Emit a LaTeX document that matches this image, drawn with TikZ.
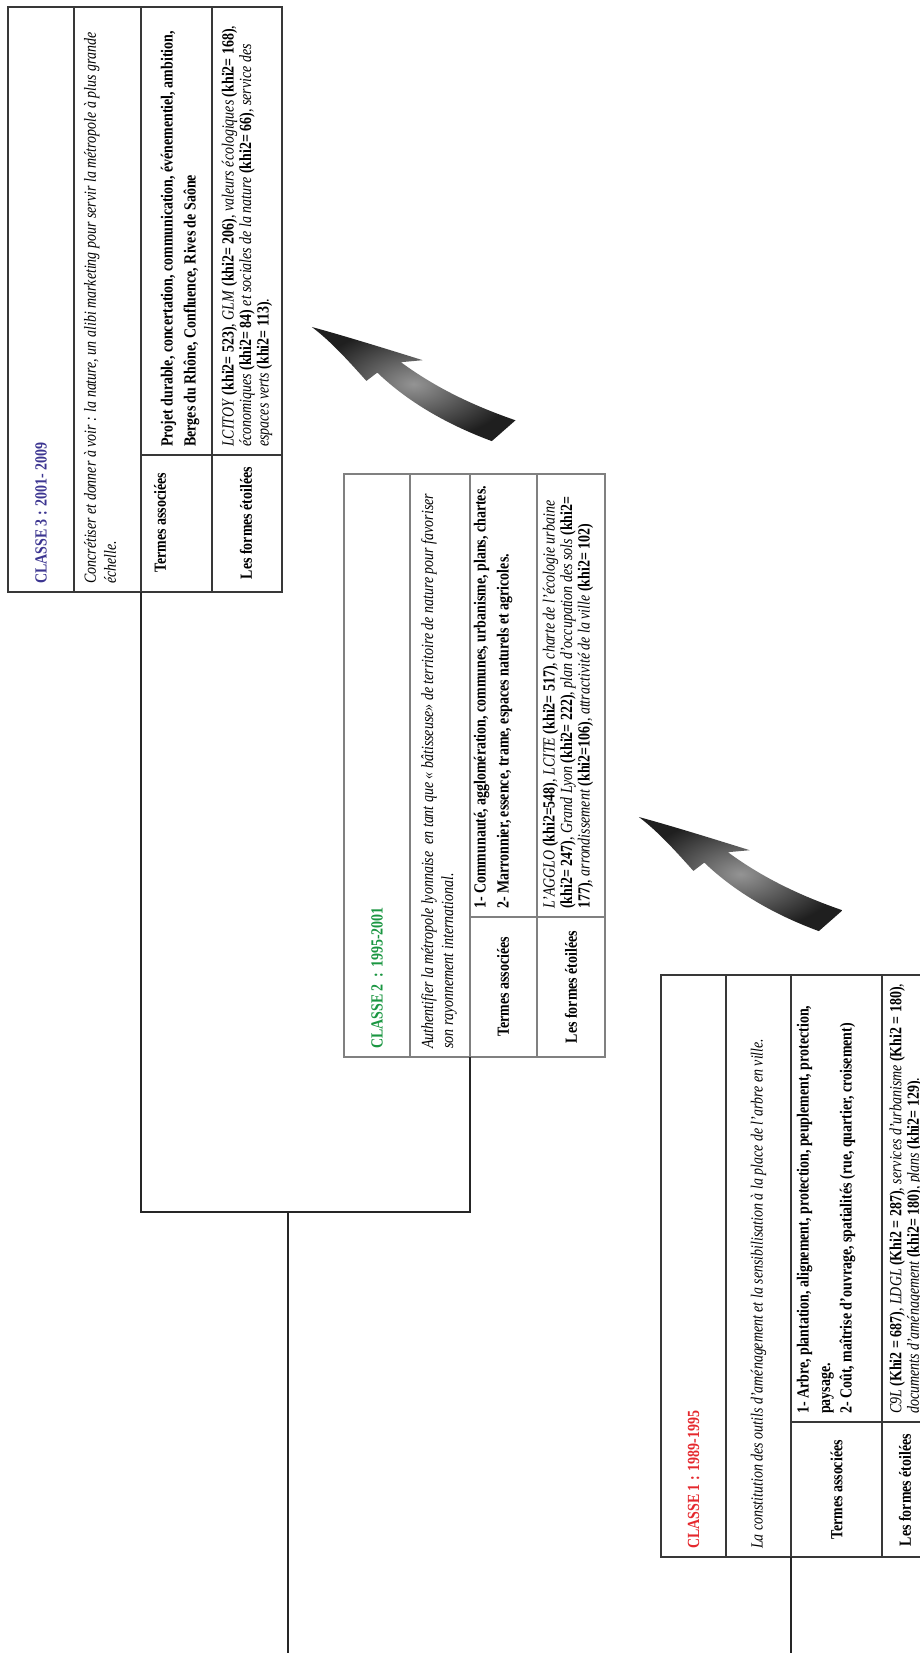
\documentclass[tikz,border=0pt]{standalone}
\usepackage{fontspec}
\setmainfont{Liberation Serif}[FakeStretch=0.82]
\definecolor{cthree}{HTML}{3C3591}
\definecolor{ctwo}{HTML}{1A9641}
\definecolor{cone}{HTML}{E5282D}
\newcommand{\arrowshape}{%
  (311.8,327) .. controls (345,336) and (390,350) .. (422.7,360.2)
  -- (400.9,362.2)
  .. controls (436,388) and (474,406) .. (515.5,420.3)
  -- (491.8,441.1)
  .. controls (451,426) and (410,404) .. (377.3,372.6)
  -- (366.4,380.9)
  .. controls (352,365) and (332,342) .. (311.8,327) -- cycle}
\begin{document}
\begin{tikzpicture}[x=1pt,y=-1pt,
  tabline/.style={draw=black!78, line width=1.5pt},
  tablinegray/.style={draw=black!50, line width=1.4pt},
  treeline/.style={draw=black!85, line width=1.8pt},
  rtxt/.style={rotate=90, inner sep=0pt, align=left, anchor=west},
  hdr/.style={rotate=90, inner sep=0pt, anchor=west, font=\fontsize{17}{20}\selectfont\bfseries},
  lbl/.style={rotate=90, inner sep=0pt, anchor=center, font=\fontsize{17}{20}\selectfont\bfseries},
  desc/.style={rtxt, font=\fontsize{17}{20}\selectfont\itshape},
  terms/.style={rtxt, font=\fontsize{17}{23}\selectfont\bfseries},
  forms/.style={rtxt, font=\fontsize{17}{17.5}\selectfont},
  bentarrow/.style={inner color=black!42, outer color=black!88, draw=none},
]
\useasboundingbox (0,0) rectangle (920,1653);
\fill[white] (0,0) rectangle (920,1653);
\clip (0,0) rectangle (920,1653);

% ---------- CLASSE 3 table ----------
\draw[tabline] (8,7) rectangle (282,592);
\draw[tabline] (74,7) -- (74,592);
\draw[tabline] (141,7) -- (141,592);
\draw[tabline] (212,7) -- (212,592);
\draw[tabline] (141,455) -- (282,455);
\node[hdr, text=cthree] (c3h) at (41,584) {CLASSE 3 : 2001- 2009};
\node[desc] (c3d) at (100,584) {Concrétiser et donner à voir : la nature, un alibi marketing pour servir la métropole à plus grande\\échelle.};
\node[lbl] (c3tl) at (160,523) {Termes associées};
\node[terms] (c3tc) at (180,447) {Projet durable, concertation, communication, événementiel, ambition,\\Berges du Rhône, Confluence, Rives de Saône};
\node[lbl] (c3fl) at (246,523) {Les formes étoilées};
\node[forms] (c3fc) at (247,447) {\textit{LCITOY} \textbf{(khi2= 523)}, \textit{GLM} \textbf{(khi2= 206)}, \textit{valeurs écologiques} \textbf{(khi2= 168)},\\\textit{économiques} \textbf{(khi2= 84)} \textit{et sociales de la nature} \textbf{(khi2= 66)}, \textit{service des}\\\textit{espaces verts} \textbf{(khi2= 113)}.};

% ---------- CLASSE 2 table ----------
\draw[tablinegray] (344,474) rectangle (605,1057);
\draw[tablinegray] (410,474) -- (410,1057);
\draw[tablinegray] (470,474) -- (470,1057);
\draw[tablinegray] (537,474) -- (537,1057);
\draw[tablinegray] (470,917) -- (605,917);
\node[hdr, text=ctwo] (c2h) at (377,1049) {CLASSE 2~ : 1995-2001};
\node[desc] (c2d) at (439,1049) {Authentifier la métropole lyonnaise~ en tant que « bâtisseuse» de territoire de nature pour favoriser\\son rayonnement international.};
\node[lbl] (c2tl) at (503,987) {Termes associées};
\node[terms] (c2tc) at (493,909) {1- Communauté, agglomération, communes, urbanisme, plans, chartes.\\2- Marronnier, essence, trame, espaces naturels et agricoles.};
\node[lbl] (c2fl) at (571,987) {Les formes étoilées};
\node[forms] (c2fc) at (568,909) {\textit{L'AGGLO} \textbf{(khi2=548)}, \textit{LCITE} \textbf{(khi2= 517)}, \textit{charte de l'écologie urbaine}\\\textbf{(khi2= 247)}, \textit{Grand Lyon} \textbf{(khi2= 222)}, \textit{plan d'occupation des sols} \textbf{(khi2=}\\\textbf{177)}, \textit{arrondissement} \textbf{(khi2=106)}, \textit{attractivité de la ville} \textbf{(khi2= 102)}};

% ---------- CLASSE 1 table ----------
\draw[tabline] (661,975) rectangle (930,1557);
\draw[tabline] (726,975) -- (726,1557);
\draw[tabline] (791,975) -- (791,1557);
\draw[tabline] (882,975) -- (882,1557);
\draw[tabline] (791,1422) -- (930,1422);
\node[hdr, text=cone] (c1h) at (693.5,1549) {CLASSE 1 : 1989-1995};
\node[desc] (c1d) at (758.5,1549) {La constitution des outils d'aménagement et la sensibilisation à la place de l'arbre en ville.};
\node[lbl] (c1tl) at (836.5,1490) {Termes associées};
\node[terms, font=\fontsize{17}{21.5}\selectfont\bfseries] (c1tc) at (826,1414) {1- Arbre, plantation, alignement, protection, peuplement, protection,\\paysage.\\2- Coût, maîtrise d'ouvrage, spatialités (rue, quartier, croisement)};
\node[lbl] (c1fl) at (905,1490) {Les formes étoilées};
\node[forms] (c1fc) at (906,1414) {\textit{C9L} \textbf{(Khi2 = 687)}, \textit{LDGL} \textbf{(Khi2 = 287)}, \textit{services d'urbanisme} \textbf{(Khi2 = 180)},\\\textit{documents d'aménagement} \textbf{(khi2= 180)}, \textit{plans} \textbf{(khi2= 129)}.};

% ---------- tree connectors ----------
\coordinate (c3foot) at (141,592);
\coordinate (c2foot) at (470,1057);
\coordinate (c1foot) at (791,1557);
\coordinate (j3) at (141,1212);
\coordinate (j2) at (470,1212);
\coordinate (jm) at (288,1212);
\coordinate (rootend) at (288,1653);
\coordinate (c1end) at (791,1653);
\draw[treeline] (c3foot) -- (j3) -- (j2) -- (c2foot);
\draw[treeline] (jm) -- (rootend);
\draw[treeline] (c1foot) -- (c1end);

% ---------- curved arrows ----------
\shade[bentarrow] \arrowshape;
\begin{scope}[shift={(327,490)}]
\shade[bentarrow] \arrowshape;
\end{scope}
\end{tikzpicture}
\end{document}
